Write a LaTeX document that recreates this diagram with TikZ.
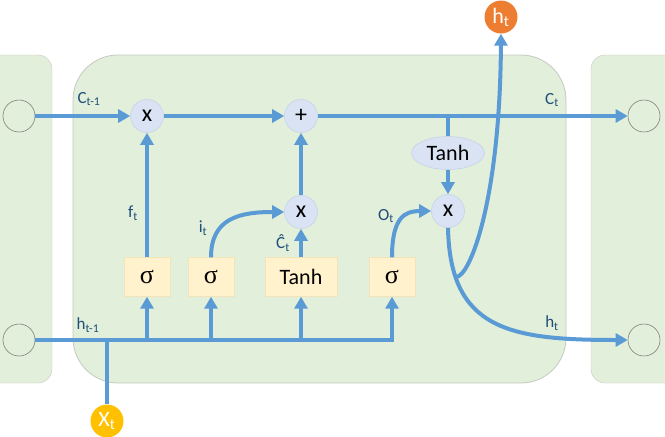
\documentclass[tikz,border=0pt]{standalone}
\usepackage{fontspec}
\setmainfont{Carlito}
\newfontfamily\sigmafont{Liberation Serif}
\usetikzlibrary{arrows.meta,shapes.geometric}
\definecolor{cellgreen}{HTML}{E2EFDA}
\definecolor{celledge}{HTML}{C4C9C0}
\definecolor{arrowblue}{HTML}{5B9BD5}
\definecolor{opfill}{HTML}{DAE3F3}
\definecolor{opedge}{HTML}{C6D2EA}
\definecolor{gatefill}{HTML}{FFF2CC}
\definecolor{gateedge}{HTML}{F2E3B8}
\definecolor{labelblue}{HTML}{1F4E79}
\definecolor{htorange}{HTML}{ED7D31}
\definecolor{xtyellow}{HTML}{FFC000}

\begin{document}
\begin{tikzpicture}[x=1pt,y=-1pt,
    flow/.style={line width=4pt, arrowblue, -{Triangle[length=12pt,width=13pt]}},
    wire/.style={line width=4pt, arrowblue},
    opnode/.style={circle, fill=opfill, draw=opedge, line width=0.6pt,
      minimum size=33pt, inner sep=0pt, font=\fontsize{24}{24}\selectfont},
    gate/.style={rectangle, fill=gatefill, draw=gateedge, line width=0.4pt,
      minimum width=46pt, minimum height=39pt, inner sep=0pt,
      font=\sigmafont\fontsize{26}{26}\selectfont},
    port/.style={circle, draw=gray, line width=0.6pt, minimum size=32pt, inner sep=0pt},
    lbl/.style={labelblue, inner sep=0pt, font=\fontsize{17}{17}\selectfont},
    io/.style={circle, minimum size=33pt, inner sep=0pt, text=white,
      font=\fontsize{22}{22}\selectfont}]
        \useasboundingbox (0,0) rectangle (665,437);
        \clip (0,0) rectangle (665,437);
        % Cells
        \draw[fill=cellgreen, draw=celledge, rounded corners=14pt] (-40,55) rectangle (52,383);
        \draw[fill=cellgreen, draw=celledge, rounded corners=14pt] (591,55) rectangle (700,383);
        \draw[fill=cellgreen, draw=celledge, line width=0.8pt, rounded corners=45pt] (73,55) rectangle (566,383);
        % Ports
        \node[port] (cin) at (19,116) {};
        \node[port] (hin) at (19,340) {};
        \node[port] (cout) at (644,116) {};
        \node[port] (hout) at (644,340) {};
        \node[io, fill=xtyellow] (xt) at (107,421) {X\textsubscript{t}};
        \node[io, fill=htorange] (ht) at (501,17) {h\textsubscript{t}};
        % Pointwise operations
        \node[opnode] (mulf) at (147,116) {x};
        \node[opnode] (add) at (301,116) {+};
        \node[opnode] (muli) at (301,212) {x};
        \node[opnode] (mulo) at (448,211) {x};
        \node[ellipse, fill=opfill, draw=opedge, line width=0.6pt, minimum width=73pt,
          minimum height=33pt, inner sep=0pt, font=\fontsize{22}{22}\selectfont] (tanhc) at (448,153) {Tanh};
        % Gates
        \node[gate] (sigf) at (147,277) {σ};
        \node[gate] (sigi) at (211,277) {σ};
        \node[gate, minimum width=72pt, font=\fontsize{22}{22}\selectfont] (tanhg) at (301,277) {Tanh};
        \node[gate] (sigo) at (392,277) {σ};
        \coordinate (csplit) at (448,116);
        \coordinate (hsplit) at (456,277);
        % Cell state
        \draw[flow] (cin) -- (mulf);
        \draw[flow] (mulf) -- (add);
        \draw[flow] (add) -- (cout);
        \draw[wire] (csplit) -- (tanhc);
        \draw[flow] (tanhc) -- (mulo);
        % Hidden state and input
        \draw[flow] (hin) -| (sigo);
        \foreach \g in {sigf,sigi,tanhg}
          \draw[flow] (\g |- hin) -- (\g);
        \draw[wire] (xt) -- (xt |- hin);
        % Gate outputs
        \draw[flow] (sigf) -- (mulf);
        \draw[flow] (tanhg) -- (muli);
        \draw[flow] (muli) -- (add);
        \draw[flow] (sigi.north) .. controls (211,218) and (240,212) .. (muli.west);
        \draw[flow] (sigo.north) .. controls (392,217) and (405,211) .. (mulo.west);
        \draw[flow] (mulo.south) .. controls (450,330) and (510,340) .. (hout.west);
        \draw[flow] (hsplit) .. controls (470,277) and (500,200) .. (ht.south);
        % Labels
        \node[lbl] (lcprev) at (89,99) {C\textsubscript{t-1}};
        \node[lbl] (lhprev) at (88,325) {h\textsubscript{t-1}};
        \node[lbl] (lf) at (133,213) {f\textsubscript{t}};
        \node[lbl] (li) at (203,228) {i\textsubscript{t}};
        \node[lbl] (lc) at (283,243) {Ĉ\textsubscript{t}};
        \node[lbl] (lo) at (386,216) {O\textsubscript{t}};
        \node[lbl] (lcnext) at (552,100) {C\textsubscript{t}};
        \node[lbl] (lhnext) at (552,323) {h\textsubscript{t}};
      \end{tikzpicture}
\end{document}
